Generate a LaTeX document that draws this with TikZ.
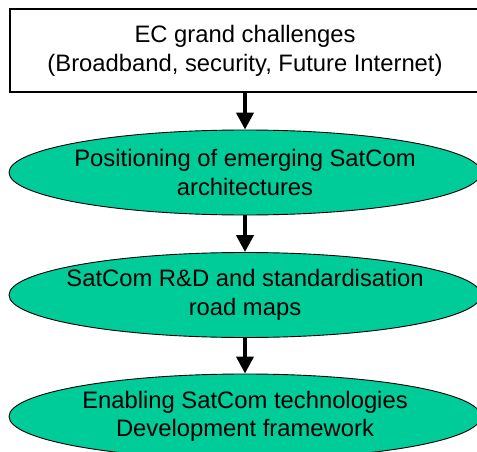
\documentclass[tikz,border=0pt]{standalone}
\usepackage{fontspec}
\setmainfont{Liberation Sans}
\usetikzlibrary{shapes.geometric,arrows.meta}
\definecolor{satgreen}{HTML}{00CC99}
\tikzset{
  txt/.style={font=\fontsize{23.8pt}{28.5pt}\selectfont, align=center, text=black, inner sep=0pt},
  topbox/.style={draw=black, line width=1.2pt, fill=white, minimum width=480pt, minimum height=83pt, inner sep=0pt},
  oval/.style={ellipse, draw=black, line width=0.9pt, fill=satgreen, minimum width=472pt, minimum height=85pt, inner sep=0pt},
  flow/.style={line width=4pt, -{Triangle[width=17pt,length=17pt]}}
}
\begin{document}
\begin{tikzpicture}[x=1pt,y=-1pt]
\useasboundingbox (0,0) rectangle (477,452);
\clip (0,0) rectangle (477,452);
\node[topbox] (ec) at (250,50.5) {};
\node[txt] (ect) at (245,51) {EC grand challenges\\(Broadband, security, Future Internet)};
\node[oval] (pos) at (245,172.5) {};
\node[txt] (post) at (pos.center) {Positioning of emerging SatCom\\architectures};
\node[oval] (rd) at (245,295) {};
\node[txt] (rdt) at (rd.center) {SatCom R\&D and standardisation\\road maps};
\node[oval] (en) at (245,416.5) {};
\node[txt] (ent) at (en.center) {Enabling SatCom technologies\\Development framework};
\draw[flow] (ec.south -| pos.north) -- (pos.north);
\draw[flow] (pos.south) -- (rd.north);
\draw[flow] (rd.south) -- (en.north);
\end{tikzpicture}
\end{document}
